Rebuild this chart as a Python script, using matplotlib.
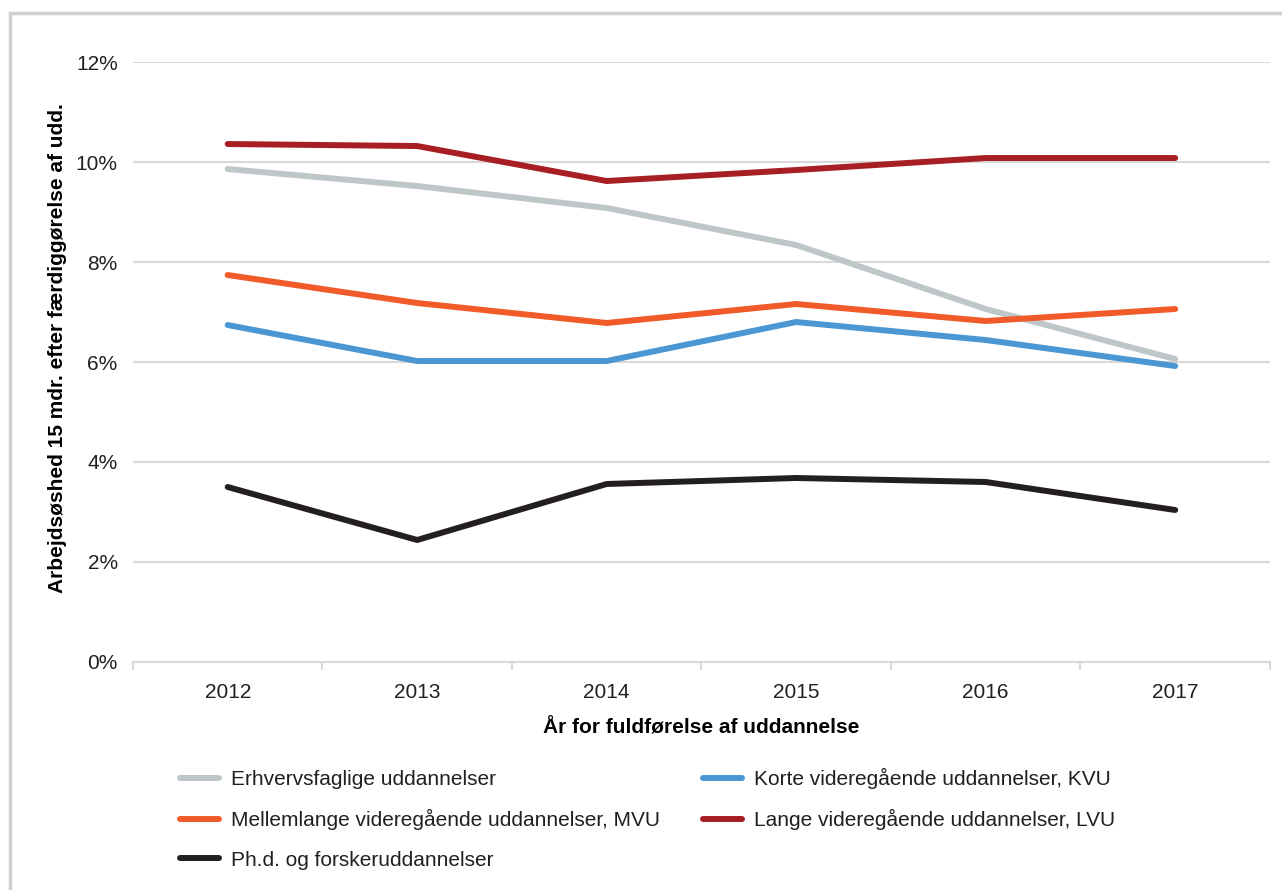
import matplotlib.pyplot as plt
from matplotlib.patches import Rectangle

plt.rcParams['font.family'] = ['Liberation Sans', 'DejaVu Sans']

years = ["2012", "2013", "2014", "2015", "2016", "2017"]

# arbejdsløshed i procent
erhvervsfaglige = [9.86, 9.52, 9.08, 8.34, 7.06, 6.06]
kvu = [6.74, 6.02, 6.02, 6.80, 6.44, 5.92]
mvu = [7.74, 7.18, 6.78, 7.16, 6.82, 7.06]
lvu = [10.36, 10.32, 9.62, 9.84, 10.08, 10.08]
phd = [3.50, 2.44, 3.56, 3.68, 3.60, 3.04]

labels = ["Erhvervsfaglige uddannelser",
          "Korte videregående uddannelser, KVU",
          "Mellemlange videregående uddannelser, MVU",
          "Lange videregående uddannelser, LVU",
          "Ph.d. og forskeruddannelser"]
colors = ["#BFC6C9", "#4B97D3", "#F15A29", "#A71E23", "#231F20"]

fs = 15

fig = plt.figure(figsize=(12.82, 8.9), dpi=100)
ax = fig.add_axes([0.1037, 0.2562, 0.8869, 0.6741])

# ramme om hele figuren
fig.patches.append(Rectangle((10 / 1282, -0.05), 1.1, 1 - 13 / 890 + 0.05,
                             transform=fig.transFigure, fill=False,
                             edgecolor="#D0D0D0", linewidth=2.5))

x = list(range(len(years)))
lines = []
for vals, lab, col in zip([erhvervsfaglige, kvu, mvu, lvu, phd], labels, colors):
    ln, = ax.plot(x, vals, color=col, linewidth=4.3, label=lab,
                  solid_capstyle="round", solid_joinstyle="round")
    lines.append(ln)

ax.set_xlim(-0.5, len(years) - 0.5)
ax.set_ylim(0, 12)
ax.set_yticks(range(0, 13, 2))
ax.set_yticklabels([f"{v}%" for v in range(0, 13, 2)])
ax.yaxis.grid(True, color="#D9D9D9", linewidth=1.5)
ax.set_axisbelow(True)
for s in ["top", "right", "left"]:
    ax.spines[s].set_visible(False)
ax.spines["bottom"].set_color("#D9D9D9")
ax.spines["bottom"].set_linewidth(1.5)

ax.set_xticks(x)
ax.set_xticklabels(years)
ax.set_xticks([i - 0.5 for i in range(len(years) + 1)], minor=True)
ax.tick_params(axis="x", which="major", length=0, pad=15, labelsize=fs, labelcolor="#231F20")
ax.tick_params(axis="x", which="minor", length=6, width=1.5, color="#D9D9D9")
ax.tick_params(axis="y", length=0, pad=11, labelsize=fs, labelcolor="#231F20")

ax.set_xlabel("År for fuldførelse af uddannelse", fontsize=fs, fontweight="bold", labelpad=12)
ax.set_ylabel("Arbejdsøshed 15 mdr. efter færdiggørelse af udd.", fontsize=fs,
              fontweight="bold")
ax.yaxis.set_label_coords(-0.058, 0.523)

order = [0, 2, 4, 1, 3]
fig.legend([lines[i] for i in order], [labels[i] for i in order],
           ncol=2, loc="upper left", bbox_to_anchor=(161 / 1282, 1 - 749 / 890),
           frameon=False, fontsize=fs, handlelength=1.9, handletextpad=0.55,
           columnspacing=2.05, labelspacing=0.98, labelcolor="#231F20")

fig.savefig("out.png", dpi=100)
